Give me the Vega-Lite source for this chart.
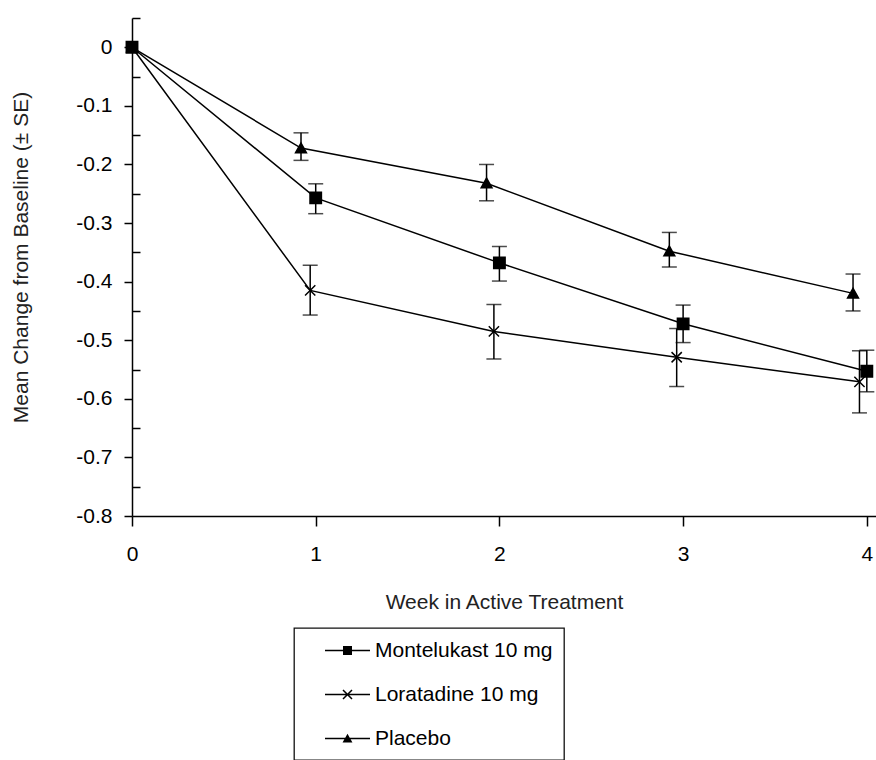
{
  "$schema": "https://vega.github.io/schema/vega-lite/v6.json",
  "width": 744,
  "height": 498,
  "autosize": {"type": "none"},
  "padding": {"left": 132, "top": 18, "right": 0, "bottom": 244},
  "background": "white",
  "config": {
    "view": {"stroke": null},
    "font": "Liberation Sans",
    "axis": {"grid": false, "domainColor": "black", "domainWidth": 1.5, "tickColor": "black", "tickWidth": 1.5, "labelColor": "black", "labelFont": "Liberation Sans", "titleFont": "Liberation Sans", "titleFontWeight": "normal", "titleColor": "#222"},
    "legend": {"strokeColor": "#111", "strokeWidth": 1.3}
  },
  "data": {"values": [
    {"series": "Montelukast 10 mg", "week": 0, "x": 0, "mean": 0, "lower": null, "upper": null},
    {"series": "Montelukast 10 mg", "week": 1, "x": 1.0, "mean": -0.257, "lower": -0.284, "upper": -0.233},
    {"series": "Montelukast 10 mg", "week": 2, "x": 2.0, "mean": -0.368, "lower": -0.399, "upper": -0.340},
    {"series": "Montelukast 10 mg", "week": 3, "x": 3.0, "mean": -0.472, "lower": -0.504, "upper": -0.440},
    {"series": "Montelukast 10 mg", "week": 4, "x": 4.0, "mean": -0.553, "lower": -0.588, "upper": -0.517},
    {"series": "Loratadine 10 mg", "week": 0, "x": 0, "mean": 0, "lower": null, "upper": null},
    {"series": "Loratadine 10 mg", "week": 1, "x": 0.97, "mean": -0.415, "lower": -0.457, "upper": -0.372},
    {"series": "Loratadine 10 mg", "week": 2, "x": 1.97, "mean": -0.485, "lower": -0.532, "upper": -0.439},
    {"series": "Loratadine 10 mg", "week": 3, "x": 2.965, "mean": -0.529, "lower": -0.579, "upper": -0.480},
    {"series": "Loratadine 10 mg", "week": 4, "x": 3.96, "mean": -0.571, "lower": -0.624, "upper": -0.518},
    {"series": "Placebo", "week": 0, "x": 0, "mean": 0, "lower": null, "upper": null},
    {"series": "Placebo", "week": 1, "x": 0.92, "mean": -0.172, "lower": -0.193, "upper": -0.146},
    {"series": "Placebo", "week": 2, "x": 1.93, "mean": -0.232, "lower": -0.262, "upper": -0.200},
    {"series": "Placebo", "week": 3, "x": 2.925, "mean": -0.348, "lower": -0.375, "upper": -0.316},
    {"series": "Placebo", "week": 4, "x": 3.925, "mean": -0.420, "lower": -0.450, "upper": -0.387}
  ]},
  "encoding": {
    "x": {"field": "x", "type": "quantitative", "scale": {"domain": [0, 4.05], "nice": false, "zero": false},
      "axis": {"values": [0, 1, 2, 3, 4], "title": "Week in Active Treatment", "titleFontSize": 21, "titlePadding": 27, "labelFontSize": 21, "tickSize": 10, "labelPadding": 17, "labelFlush": false, "format": "d"}},
    "y": {"field": "mean", "type": "quantitative", "title": "Mean Change from Baseline (± SE)", "scale": {"domain": [-0.8, 0.05], "nice": false, "zero": false},
      "axis": {"values": [-0.8, -0.75, -0.7, -0.65, -0.6, -0.55, -0.5, -0.45, -0.4, -0.35, -0.3, -0.25, -0.2, -0.15, -0.1, -0.05, 0, 0.05],
        "labelExpr": "abs(round(datum.value*20)) % 2 == 1 ? '' : toString(round(datum.value*10)/10)",
        "tickSize": {"condition": {"test": "abs(round(datum.value*20)) % 2 == 1", "value": -8}, "value": 8},
        "labelPadding": 12, "labelFontSize": 21, "labelFlush": false, "titleFontSize": 21, "titlePadding": 44, "titleY": 239}}
  },
  "layer": [
    {"mark": {"type": "line", "color": "black", "strokeWidth": 1.5}, "encoding": {"detail": {"field": "series"}, "order": {"field": "x"}}},
    {"transform": [{"filter": "datum.lower != null"}], "mark": {"type": "rule", "color": "black", "strokeWidth": 1.5},
      "encoding": {"y": {"field": "lower", "type": "quantitative", "title": "Mean Change from Baseline (± SE)"}, "y2": {"field": "upper"}}},
    {"transform": [{"filter": "datum.lower != null"}], "mark": {"type": "tick", "orient": "horizontal", "size": 15, "thickness": 1.5, "color": "black"},
      "encoding": {"y": {"field": "lower", "type": "quantitative", "title": "Mean Change from Baseline (± SE)"}}},
    {"transform": [{"filter": "datum.lower != null"}], "mark": {"type": "tick", "orient": "horizontal", "size": 15, "thickness": 1.5, "color": "black"},
      "encoding": {"y": {"field": "upper", "type": "quantitative", "title": "Mean Change from Baseline (± SE)"}}},
    {"mark": {"type": "point", "filled": true, "color": "black", "stroke": "black", "strokeWidth": 1.5, "size": 130, "opacity": 1},
      "encoding": {"shape": {"field": "series", "type": "nominal",
        "scale": {"domain": ["Montelukast 10 mg", "Loratadine 10 mg", "Placebo"], "range": ["M-1,-1H1V1H-1Z", "M-0.9,-0.9L0.9,0.9M-0.9,0.9L0.9,-0.9", "M-0.95,0.8L0,-0.9L0.95,0.8Z"]}, "legend": null}}},
    {"transform": [{"filter": "false"}], "mark": {"type": "point", "filled": true, "color": "black", "opacity": 1},
      "encoding": {"shape": {"field": "series", "type": "nominal",
        "scale": {"domain": ["Montelukast 10 mg", "Loratadine 10 mg", "Placebo"], "range": [
          "M-2,-0.067H2V0.067H-2Z M-0.4,-0.4H0.4V0.4H-0.4Z",
          "M-2,-0.067H2V0.067H-2Z M-0.353,-0.447L0.447,0.353L0.353,0.447L-0.447,-0.353Z M0.353,-0.447L0.447,-0.353L-0.353,0.447L-0.447,0.353Z",
          "M-2,-0.067H2V0.067H-2Z M-0.44,0.36L0,-0.42L0.44,0.36Z"]},
        "legend": {"orient": "none", "legendX": 162, "legendY": 610, "direction": "vertical", "title": null, "fillColor": "white", "padding": 11, "symbolOffset": 31, "symbolSize": 506, "symbolStrokeWidth": 0, "symbolFillColor": "black", "symbolOpacity": 1, "labelFontSize": 21, "labelFont": "Liberation Sans", "labelColor": "black", "labelOffset": 16, "labelLimit": 400, "rowPadding": 22}}}}
  ],
  "resolve": {"scale": {"shape": "independent"}}
}
